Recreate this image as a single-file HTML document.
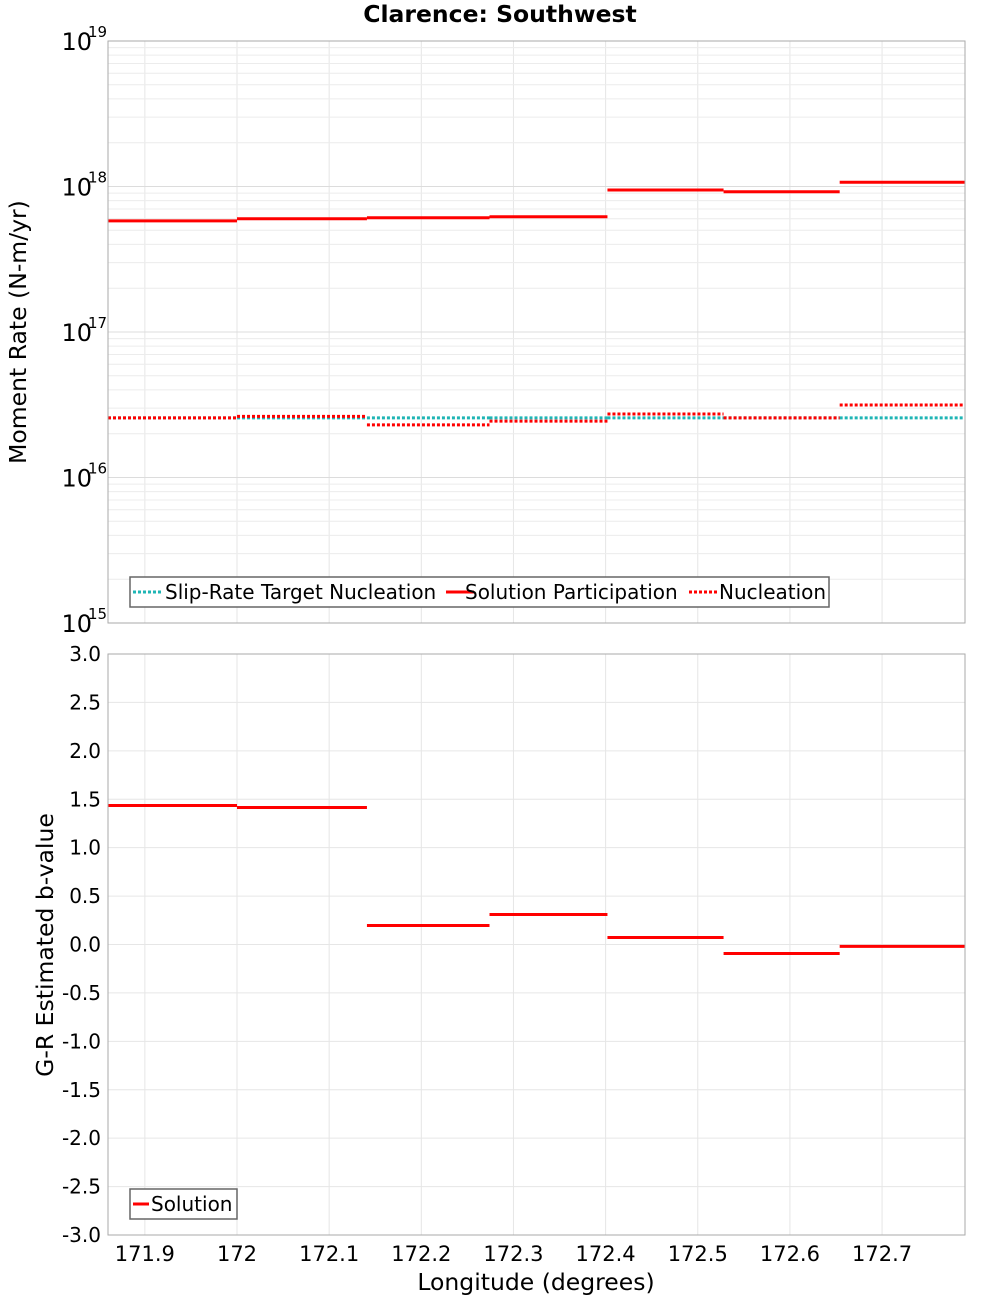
<!DOCTYPE html>
<html><head><meta charset="utf-8"><style>
body{margin:0;background:#fff;font-family:"Liberation Sans","DejaVu Sans",sans-serif;}
svg text{font-family:"DejaVu Sans","Liberation Sans",sans-serif;}
</style></head><body>
<svg id="chart" width="1000" height="1300" xmlns="http://www.w3.org/2000/svg">
<text x="500" y="22" text-anchor="middle" font-size="23.5" font-weight="bold">Clarence: Southwest</text>
<text transform="translate(26,332) rotate(-90)" text-anchor="middle" font-size="23.5">Moment Rate (N-m/yr)</text>
<text transform="translate(53,945) rotate(-90)" text-anchor="middle" font-size="23.5">G-R Estimated b-value</text>
<text x="536" y="1290" text-anchor="middle" font-size="23.5">Longitude (degrees)</text>
<g id="topPlot"></g>
<g id="botPlot"></g>
</svg>
<script>
const binEdges=[171.86,172.0,172.141,172.274,172.402,172.528,172.654,172.79];
const targetNucleation=[2.57e16,2.57e16,2.57e16,2.57e16,2.57e16,2.57e16,2.57e16];
const solutionParticipation=[5.8e17,6.0e17,6.1e17,6.2e17,9.46e17,9.2e17,1.07e18];
const nucleation=[2.57e16,2.63e16,2.3e16,2.44e16,2.73e16,2.57e16,3.15e16];
const bValues=[1.436,1.415,0.196,0.31,0.072,-0.093,-0.02];
const xTicks=[171.9,172.0,172.1,172.2,172.3,172.4,172.5,172.6,172.7];
const xTickLabels=["171.9","172","172.1","172.2","172.3","172.4","172.5","172.6","172.7"];
const bTicks=[-3,-2.5,-2,-1.5,-1,-0.5,0,0.5,1,1.5,2,2.5,3];
const decades=[15,16,17,18,19];
const NS="http://www.w3.org/2000/svg";
const L=108,R=965,T1=41,B1=623,T2=654,B2=1235;
const xs=v=>L+(v-171.86)/(172.79-171.86)*(R-L);
const ylog=v=>B1-(Math.log10(v)-15)/4*(B1-T1);
const yb=v=>B2-(v+3)/6*(B2-T2);
function mk(p,tag,a,txt){const e=document.createElementNS(NS,tag);for(const k in a)e.setAttribute(k,a[k]);if(txt!==undefined)e.textContent=txt;p.appendChild(e);return e;}
const topG=document.getElementById('topPlot'),botG=document.getElementById('botPlot');
[[topG,T1,B1],[botG,T2,B2]].forEach(([g,t,b])=>{
  const bg=mk(g,'rect',{x:L,y:t,width:R-L,height:b-t,fill:'#fff'});
  
  
  xTicks.forEach(v=>{const l=mk(g,'line',{x1:xs(v),x2:xs(v),y1:t,y2:b,stroke:'#e6e6e6'});
    
    });
});
decades.forEach((d,i)=>{
  if(i<decades.length-1)for(let m=2;m<=9;m++){const y=ylog(m*Math.pow(10,d));
    const l=mk(topG,'line',{x1:L,x2:R,y1:y,y2:y,stroke:'#ececec'});
    
    }
  const y=ylog(Math.pow(10,d));
  const l=mk(topG,'line',{x1:L,x2:R,y1:y,y2:y,stroke:'#dcdcdc'});
  
  
  const t=mk(topG,'text',{x:92,y:y+9,'text-anchor':'end','font-size':24},'10');
  
  
  const s=mk(topG,'text',{x:88,y:y-4,'font-size':15},String(d));
  
  
});
bTicks.forEach(v=>{const y=yb(v);
  const l=mk(botG,'line',{x1:L,x2:R,y1:y,y2:y,stroke:'#e6e6e6'});
  
  
  const t=mk(botG,'text',{x:101,y:y+7,'text-anchor':'end','font-size':20},v.toFixed(1));
  
  
});
xTicks.forEach((v,i)=>{const t=mk(botG,'text',{x:xs(v),y:1261,'text-anchor':'middle','font-size':21},xTickLabels[i]);
  
  });
function steps(g,vals,yf,color,dash,name){
  vals.forEach((v,i)=>{const y=yf(v);
    const a={x1:xs(binEdges[i]),x2:xs(binEdges[i+1]),y1:y,y2:y,stroke:color,'stroke-width':3};
    if(dash)a['stroke-dasharray']=dash;
    const l=mk(g,'line',a);
    
    });
}
steps(topG,targetNucleation,ylog,'#1fb5b5','3,2','target-nucleation-segment');
steps(topG,solutionParticipation,ylog,'#ff0000',null,'solution-participation-segment');
steps(topG,nucleation,ylog,'#ff0000','3,2','nucleation-segment');
steps(botG,bValues,yb,'#ff0000',null,'b-value-segment');
[[topG,T1,B1],[botG,T2,B2]].forEach(([g,t,b])=>{
  const r=mk(g,'rect',{x:L,y:t,width:R-L,height:b-t,fill:'none',stroke:'#aaa'});
  
  });
const lg=mk(topG,'g',{});


mk(lg,'rect',{x:130,y:577,width:699,height:30,fill:'#fff',stroke:'#666','stroke-width':1.5});
[[133,'#1fb5b5','3,2','Slip-Rate Target Nucleation',165],[446,'#ff0000',null,'Solution Participation',465],[689,'#ff0000','3,2','Nucleation',719]].forEach(e=>{
  const a={x1:e[0],x2:e[0]+28,y1:592,y2:592,stroke:e[1],'stroke-width':3};if(e[2])a['stroke-dasharray']=e[2];
  const s=mk(lg,'line',a);
  
  
  const t=mk(lg,'text',{x:e[4],y:599,'font-size':20},e[3]);
  
  
});
const lg2=mk(botG,'g',{});


mk(lg2,'rect',{x:130,y:1189,width:107,height:30,fill:'#fff',stroke:'#666','stroke-width':1.5});
const s2=mk(lg2,'line',{x1:133,x2:149,y1:1204,y2:1204,stroke:'#ff0000','stroke-width':3});


const t2=mk(lg2,'text',{x:151,y:1211,'font-size':20},'Solution');


</script>
</body></html>
